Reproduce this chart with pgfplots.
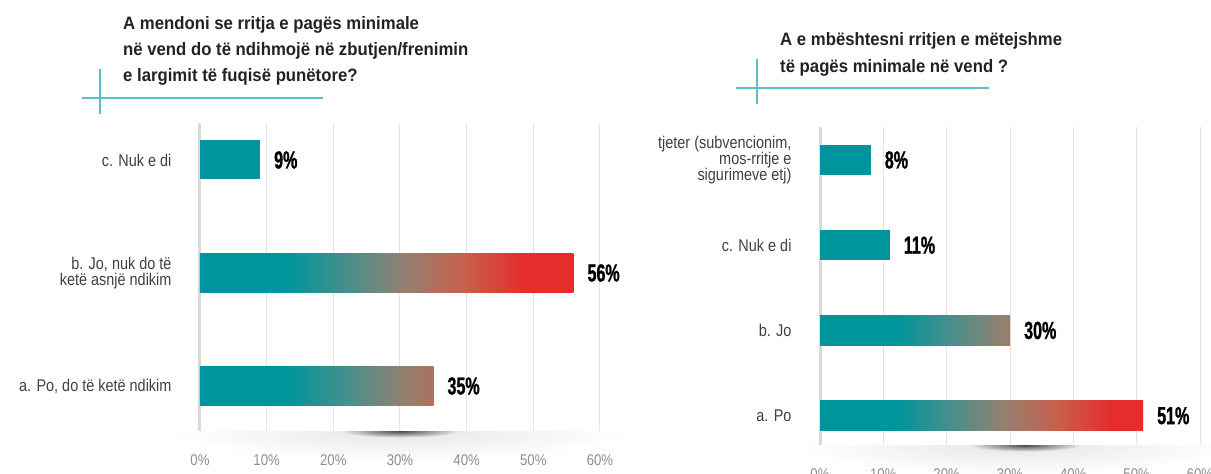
\documentclass[border=0pt]{standalone}
\usepackage{pgfplots}
\pgfplotsset{compat=1.18}
\usepackage{fontspec}
\setmainfont{Liberation Sans}
\newfontfamily\labfont{Liberation Sans}[FakeStretch=0.85]
\newfontfamily\titlefont{Liberation Sans Bold}[FakeStretch=0.93]
\newfontfamily\valfont{Liberation Sans Bold}[FakeStretch=0.65, FakeBold=1]

\definecolor{tealc}{RGB}{0,149,156}
\definecolor{g1}{RGB}{70,143,140}
\definecolor{g2}{RGB}{148,128,112}
\definecolor{g3}{RGB}{200,95,75}
\definecolor{redc}{RGB}{229,45,45}
\definecolor{enda}{RGB}{173,112,94}
\definecolor{endb}{RGB}{154,124,108}
\definecolor{titc}{RGB}{34,34,34}
\definecolor{labc}{RGB}{64,64,64}
\definecolor{tickc}{RGB}{140,140,140}
\definecolor{gridc}{RGB}{229,229,229}
\definecolor{zeroc}{RGB}{217,217,217}
\definecolor{decc}{RGB}{91,191,198}

\pgfdeclarehorizontalshading{shLb}{100bp}{color(0bp)=(tealc); color(36.6bp)=(tealc); color(44.5bp)=(g1); color(52.5bp)=(g2); color(60.4bp)=(g3); color(68.3bp)=(redc); color(100bp)=(redc)}
\pgfdeclarehorizontalshading{shLa}{100bp}{color(0bp)=(tealc); color(43.6bp)=(tealc); color(56.3bp)=(g1); color(68.9bp)=(g2); color(75bp)=(enda); color(100bp)=(enda)}
\pgfdeclarehorizontalshading{shRa}{100bp}{color(0bp)=(tealc); color(36.8bp)=(tealc); color(45.1bp)=(g1); color(53.4bp)=(g2); color(61.8bp)=(g3); color(70.1bp)=(redc); color(100bp)=(redc)}
\pgfdeclarehorizontalshading{shRb}{100bp}{color(0bp)=(tealc); color(45bp)=(tealc); color(59.2bp)=(g1); color(73.3bp)=(g2); color(75bp)=(endb); color(100bp)=(endb)}

\pgfplotsset{
  panel/.style={
    scale only axis, anchor=south west, clip=false,
    xmin=0, xmax=60,
    xtick={0,10,...,60},
    xticklabels={0\%,10\%,20\%,30\%,40\%,50\%,60\%},
    axis line style={draw=none},
    major tick length=0pt,
    xmajorgrids, ymajorgrids=false,
    grid style={draw=gridc, line width=1pt},
    extra x ticks={0}, extra x tick labels={},
    extra x tick style={grid style={draw=zeroc, line width=3pt}},
    xticklabel style={font=\labfont\fontsize{15.5}{18}\selectfont, text=tickc, yshift=-20pt},
    yticklabel style={font=\labfont\fontsize{17}{16}\selectfont, text=labc, align=right, xshift=-25pt},
  },
  vallab/.style={draw=none, mark=none, point meta=explicit symbolic, nodes near coords,
    nodes near coords style={anchor=west, inner sep=0pt, xshift=14pt, font=\valfont\fontsize{24.7}{26}\selectfont, text=black}},
}

\begin{document}
\begin{tikzpicture}
\path[use as bounding box] (0pt,0pt) rectangle (1211pt,-474pt);

% titles
\begin{scope}[every node/.style={anchor=base west, inner sep=0pt, font=\titlefont\fontsize{18}{20}\selectfont, text=titc}]
\node at (123pt,-29.5pt) {A mendoni se rritja e pagës minimale};
\node at (123pt,-55pt) {në vend do të ndihmojë në zbutjen/frenimin};
\node at (123pt,-81pt) {e largimit të fuqisë punëtore?};
\node at (780pt,-45.5pt) {A e mbështesni rritjen e mëtejshme};
\node at (780pt,-72pt) {të pagës minimale në vend ?};
\end{scope}
\draw[decc, line width=1.3pt] (82pt,-98pt) -- (323pt,-98pt);
\draw[decc, line width=1.3pt] (100pt,-69pt) -- (100pt,-114pt);
\draw[decc, line width=1.3pt] (736pt,-88pt) -- (989pt,-88pt);
\draw[decc, line width=1.3pt] (757pt,-59pt) -- (757pt,-104pt);

% soft shadows under the axes
\begin{scope}
\clip (150pt,-431pt) rectangle (650pt,-474pt);
\shade[inner color=black!10, outer color=white] (400pt,-431pt) ellipse [x radius=230pt, y radius=30pt];
\shade[inner color=black!72, outer color=black!9] (400pt,-431pt) ellipse [x radius=58pt, y radius=6.5pt];
\end{scope}
\begin{scope}
\clip (770pt,-445pt) rectangle (1250pt,-474pt);
\shade[inner color=black!10, outer color=white] (1015pt,-445pt) ellipse [x radius=220pt, y radius=30pt];
\shade[inner color=black!72, outer color=black!9] (1025pt,-445pt) ellipse [x radius=55pt, y radius=6.5pt];
\end{scope}

% left panel
\begin{axis}[panel,
  at={(200pt,-431pt)}, width=400pt, height=308pt,
  ymin=-0.398, ymax=2.327,
  ytick={0,1,2},
  yticklabels={{a. Po, do të ketë ndikim},{b. Jo, nuk do të\\ketë asnjë ndikim},{c. Nuk e di}},
]
\addplot[xbar, bar shift=0pt, bar width=39pt, fill=tealc, draw=none] coordinates {(9,2)};
\addplot[xbar, bar shift=0pt, bar width=39pt, draw=none, shade, shading=shLb, shading angle=0] coordinates {(56,1)};
\addplot[xbar, bar shift=0pt, bar width=39pt, draw=none, shade, shading=shLa, shading angle=0] coordinates {(35,0)};
\addplot[vallab] coordinates {(9,2)[9\%] (56,1)[56\%] (35,0)[35\%]};
\end{axis}

% right panel
\begin{axis}[panel,
  at={(820pt,-445pt)}, width=380pt, height=318pt,
  ymin=-0.344, ymax=3.387,
  ytick={0,1,2,3},
  yticklabels={{a. Po},{b. Jo},{c. Nuk e di},{tjeter (subvencionim,\\mos-rritje e\\sigurimeve etj)}},
]
\addplot[xbar, bar shift=0pt, bar width=30pt, fill=tealc, draw=none] coordinates {(8,3)};
\addplot[xbar, bar shift=0pt, bar width=30pt, fill=tealc, draw=none] coordinates {(11,2)};
\addplot[xbar, bar shift=0pt, bar width=30pt, draw=none, shade, shading=shRb, shading angle=0] coordinates {(30,1)};
\addplot[xbar, bar shift=0pt, bar width=30pt, draw=none, shade, shading=shRa, shading angle=0] coordinates {(51,0)};
\addplot[vallab] coordinates {(8,3)[8\%] (11,2)[11\%] (30,1)[30\%] (51,0)[51\%]};
\end{axis}
\end{tikzpicture}
\end{document}
